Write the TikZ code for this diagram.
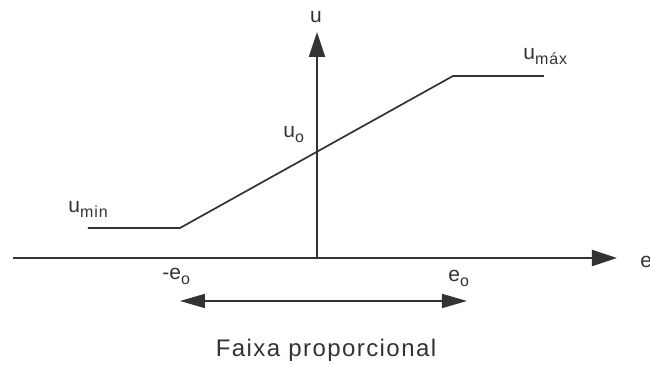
\documentclass[tikz,border=0pt]{standalone}
\usepackage{fontspec}
\setmainfont{Liberation Sans}
\usetikzlibrary{arrows.meta}
\definecolor{inkgray}{gray}{0.2}
\newcommand{\lowidx}[1]{\raisebox{-2.4pt}{\fontsize{8}{9}\selectfont\addfontfeature{LetterSpace=6}#1}}

\begin{document}
\begin{tikzpicture}[x=0.5pt,y=-0.5pt,font=\fontsize{10.5}{12}\selectfont,
   axis/.style={draw=inkgray,line width=1pt,-{Triangle[length=12.5pt,width=8pt]}},
   curve/.style={draw=inkgray,line width=0.85pt},
   lbl/.style={inner sep=0pt,anchor=base west,text=inkgray}]
  \useasboundingbox (0,0) rectangle (650,367);
  \coordinate (orig) at (317,258);
  \coordinate (eend) at (617,258);
  \coordinate (estart) at (13,258);
  \coordinate (uend) at (317,32);
  \coordinate (lo) at (88,228);
  \coordinate (lokink) at (180,228);
  \coordinate (hikink) at (453,76);
  \coordinate (hi) at (544,76);
  \coordinate (bandl) at (180,301);
  \coordinate (bandr) at (467,301);
  \draw[axis] (estart) -- (eend);
  \draw[axis] (orig) -- (uend);
  \draw[curve] (lo) -- (lokink) -- (hikink) -- (hi);
  \draw[curve,{Triangle[length=12.5pt,width=7pt]}-{Triangle[length=12.5pt,width=7pt]}]
       (bandl) -- (bandr);
  \node[lbl,anchor=base] (ulbl) at (316,23) {u};
  \node[lbl] (elbl) at (640,268) {e};
  \node[lbl] (uo) at (283,138) {u\lowidx{o}};
  \node[lbl] (umin) at (68,213) {u\lowidx{min}};
  \node[lbl] (umax) at (523,60) {u\lowidx{máx}};
  \node[lbl] (meo) at (162,280) {-e\lowidx{o}};
  \node[lbl] (eo) at (448,282) {e\lowidx{o}};
  \node[lbl,anchor=base] (band) at (326,357)
       {\fontsize{12}{14}\selectfont\addfontfeature{LetterSpace=6}Faixa proporcional};
\end{tikzpicture}
\end{document}
